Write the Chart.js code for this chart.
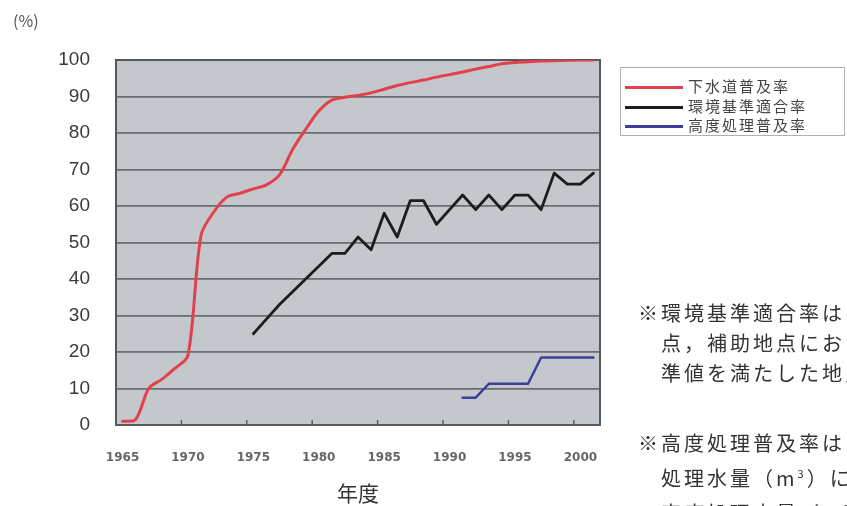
<!DOCTYPE html>
<html lang="ja">
<head>
    <meta charset="UTF-8">
    <title>下水道普及率・環境基準適合率・高度処理普及率</title>
    <script src="https://cdnjs.cloudflare.com/ajax/libs/Chart.js/4.4.1/chart.umd.min.js"></script>
    <style>
body {
    margin: 0;
    width: 847px;
    height: 506px;
    overflow: hidden;
    background: #fff;
    position: relative;
    font-family: "Noto Sans CJK JP", "Noto Sans", sans-serif;
}
#wrap {
    position: absolute;
    left: 0;
    top: 0;
    width: 847px;
    height: 506px;
}
/* 単位 */
.unit {
    position: absolute;
    left: 13px;
    top: 8px;
    font-size: 16px;
    color: #555;
}
/* 凡例 */
.legend {
    position: absolute;
    left: 620px;
    top: 67px;
    width: 225px;
    height: 69px;
    border: 1px solid #b0b0b0;
    box-sizing: border-box;
    padding-top: 8px;
}
.legend div {
    height: 19.5px;
    line-height: 19.5px;
    font-size: 15px;
    letter-spacing: 2px;
    color: #444;
    white-space: nowrap;
}
.legend span {
    display: inline-block;
    width: 58px;
    height: 3px;
    margin: 0 5px 0 4px;
    vertical-align: middle;
}
/* 注記 */
.note {
    position: absolute;
    left: 638px;
    font-size: 20px;
    line-height: 30px;
    letter-spacing: 3px;
    color: #333;
    white-space: nowrap;
}
    </style>
</head>
<body>
    <div id="wrap"><canvas id="grafico" width="847" height="506"></canvas></div>

    <div class="unit">(%)</div>

    <div class="legend" id="legend"></div>

    <div class="note" style="top:298px">
        ※環境基準適合率は，環境基準<br>
        &#12288;点，補助地点において環境基<br>
        &#12288;準値を満たした地点の割合
    </div>
    <div class="note" style="top:428px">
        ※高度処理普及率は，下水道の<br>
        &#12288;処理水量（m<sup style="font-size:11px">3</sup>）に対する<br>
        &#12288;高度処理水量（m<sup style="font-size:11px">3</sup>）の割合
    </div>

    <script>
        // 年度 (1965〜2001)
        const years = ['1965', '1966', '1967', '1968', '1969', '1970', '1971', '1972', '1973', '1974',
                       '1975', '1976', '1977', '1978', '1979', '1980', '1981', '1982', '1983', '1984',
                       '1985', '1986', '1987', '1988', '1989', '1990', '1991', '1992', '1993', '1994',
                       '1995', '1996', '1997', '1998', '1999', '2000', '2001'];

        // 下水道普及率
        const gesuido = [1, 1.5, 10, 12.5, 15.5, 19, 52, 58.5, 62.5, 63.5,
                         64.7, 65.8, 68.5, 75.5, 81, 86, 89, 89.8, 90.3, 91,
                         92, 93, 93.8, 94.5, 95.3, 96, 96.7, 97.5, 98.2, 99,
                         99.3, 99.5, 99.7, 99.8, 99.9, 100, 100];

        // 環境基準適合率 (1975〜)
        const kankyo = [null, null, null, null, null, null, null, null, null, null,
                        25, 29, 33, 36.5, 40, 43.5, 47, 47, 51.5, 48,
                        58, 51.5, 61.5, 61.5, 55, 59, 63, 59, 63, 59,
                        63, 63, 59, 69, 66, 66, 69];

        // 高度処理普及率 (1991〜)
        const kodo = [null, null, null, null, null, null, null, null, null, null,
                      null, null, null, null, null, null, null, null, null, null,
                      null, null, null, null, null, null, 7.5, 7.5, 11.3, 11.3,
                      11.3, 11.3, 18.5, 18.5, 18.5, 18.5, 18.5];

        // Y軸の目盛り
        const yTicks = [0, 10, 20, 30, 40, 50, 60, 70, 80, 90, 100];

        const seriesNames = ['下水道普及率', '環境基準適合率', '高度処理普及率'];
        const seriesColors = ['#e2414b', '#1c1c1c', '#3d3d9c'];

        // プロットエリアの背景・枠・目盛り線
        const plotArea = {
            id: 'plotArea',
            beforeDraw(chart) {
                const a = chart.chartArea;
                const ctx = chart.ctx;
                ctx.save();
                ctx.fillStyle = '#c4c7cb';
                ctx.fillRect(a.left, a.top, a.right - a.left, a.bottom - a.top);
                ctx.restore();
            },
            beforeDatasetsDraw(chart) {
                const a = chart.chartArea;
                const ctx = chart.ctx;
                const x = chart.scales.x;
                const half = (x.getPixelForValue(1) - x.getPixelForValue(0)) / 2;
                ctx.save();
                ctx.strokeStyle = '#5c6064';
                ctx.lineWidth = 1.5;
                years.forEach((y, i) => {
                    if (Number(y) % 5 === 0 && i > 0) {
                        const px = x.getPixelForValue(i) - half;
                        ctx.beginPath();
                        ctx.moveTo(px, a.bottom);
                        ctx.lineTo(px, a.bottom - 5);
                        ctx.stroke();
                    }
                });
                ctx.lineWidth = 2;
                ctx.strokeStyle = '#56595d';
                ctx.strokeRect(a.left, a.top, a.right - a.left, a.bottom - a.top);
                ctx.restore();
            }
        };

        const ctx = document.getElementById('grafico').getContext('2d');
        const chart = new Chart(ctx, {
            type: 'line',
            data: {
                labels: years,
                datasets: [
                    {
                        label: seriesNames[0],
                        data: gesuido,
                        borderColor: seriesColors[0],
                        borderWidth: 3,
                        tension: 0.3
                    },
                    {
                        label: seriesNames[1],
                        data: kankyo,
                        borderColor: seriesColors[1],
                        borderWidth: 2.8,
                        tension: 0
                    },
                    {
                        label: seriesNames[2],
                        data: kodo,
                        borderColor: seriesColors[2],
                        borderWidth: 2.5,
                        tension: 0
                    }
                ]
            },
            options: {
                responsive: false,
                animation: false,
                layout: {
                    padding: { left: 40, top: 60, right: 247, bottom: 0 }
                },
                elements: {
                    point: { radius: 0 },
                    line: { borderCapStyle: 'round', borderJoinStyle: 'round' }
                },
                plugins: {
                    legend: { display: false },
                    tooltip: { enabled: false }
                },
                scales: {
                    x: {
                        type: 'category',
                        offset: true,
                        afterFit(scale) { scale.height = 81; },
                        grid: { display: false },
                        border: { display: false },
                        ticks: {
                            autoSkip: false,
                            maxRotation: 0,
                            padding: 18,
                            color: '#666',
                            font: { family: 'DejaVu Sans', size: 12, weight: 'bold' },
                            callback(v, i) {
                                return Number(years[i]) % 5 === 0 ? years[i] : '';
                            }
                        },
                        title: {
                            display: true,
                            text: '年度',
                            color: '#333',
                            font: { family: 'Noto Sans CJK JP', size: 21 },
                            padding: { top: 0, bottom: 0 }
                        }
                    },
                    y: {
                        min: 0,
                        max: 100,
                        afterFit(scale) { scale.width = 76; },
                        afterBuildTicks(scale) {
                            scale.ticks = yTicks.map(v => ({ value: v }));
                        },
                        border: { display: false },
                        grid: {
                            color: '#6a6e72',
                            lineWidth: 1.8,
                            drawTicks: false
                        },
                        ticks: {
                            padding: 26,
                            color: '#3a3a3a',
                            font: { family: 'Liberation Sans', size: 19 }
                        }
                    }
                }
            },
            plugins: [plotArea]
        });

        // 凡例
        const legend = document.getElementById('legend');
        seriesNames.forEach((name, i) => {
            const row = document.createElement('div');
            row.innerHTML = '<span style="background:' + seriesColors[i] + '"></span>' + name;
            legend.appendChild(row);
        });
    </script>
</body>
</html>
